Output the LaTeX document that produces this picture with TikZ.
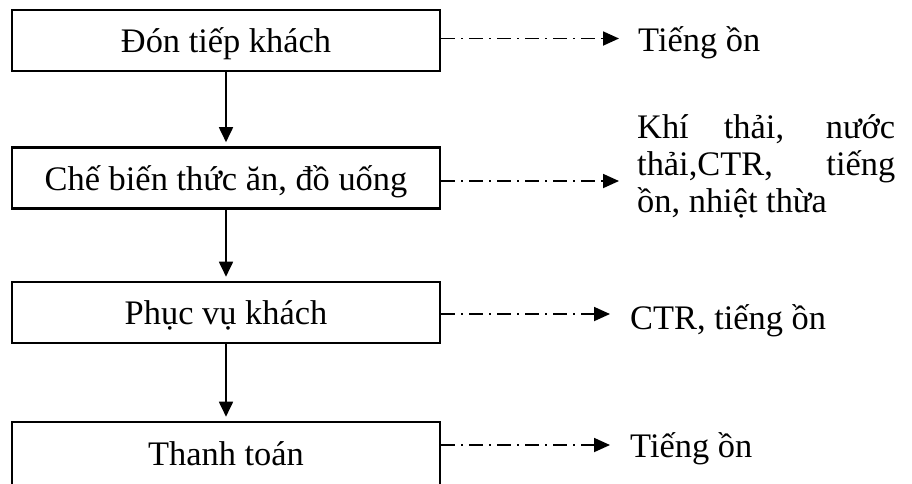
\documentclass[tikz,border=0pt]{standalone}
\usepackage{fontspec}
\setmainfont{Liberation Serif}
\usetikzlibrary{arrows.meta}

\begin{document}
\begin{tikzpicture}[x=1pt,y=-1pt,
  font=\fontsize{34.4}{36}\selectfont,
  stepbox/.style={draw, line width=2.6pt, minimum width=428pt, minimum height=61pt,
    inner sep=0pt, text height=32.7pt, text depth=8.6pt},
  flowdown/.style={line width=1.8pt, -{Triangle[length=15pt,width=14pt]}, shorten >=4pt},
  emission/.style={line width=1.8pt, dash pattern=on 14pt off 6pt on 2pt off 6pt,
    -{Triangle[length=16pt,width=14pt]}},
  outtext/.style={anchor=base west, inner sep=0pt}]
\useasboundingbox (0,0) rectangle (912,483);

% process steps
\node[stepbox] (b1) at (226,40.5) {Đón tiếp khách};
\node[stepbox] (b2) at (226,178) {Chế biến thức ăn, đồ uống};
\node[stepbox] (b3) at (226,312.5) {Phục vụ khách};
\node[stepbox, minimum height=70pt, text depth=16.7pt] (b4) at (226,457) {Thanh toán};

\draw[flowdown] (b1) -- (b2);
\draw[flowdown] (b2) -- (b3);
\draw[flowdown] (b3.south) -- (b3.south |- b4.north);

% emitted outputs
\node[outtext] (o1) at (638,51) {Tiếng ồn};
\node[outtext] (o2a) at (637,138) {\makebox[258pt][s]{Khí thải, nước}};
\node[outtext] (o2b) at (637,175) {\makebox[258pt][s]{thải,CTR, tiếng}};
\node[outtext] (o2c) at (637,212) {ồn, nhiệt thừa};
\node[outtext] (o3) at (630,329) {CTR, tiếng ồn};
\node[outtext] (o4) at (630,457) {Tiếng ồn};

\coordinate (e1) at (619,38.5);
\coordinate (e2) at (619,181);
\coordinate (e3) at (610,314);
\coordinate (e4) at (610,445);

\draw[emission] (b1.east |- e1) -- (e1);
\draw[emission] (b2.east |- e2) -- (e2);
\draw[emission] (b3.east |- e3) -- (e3);
\draw[emission] (b4.east |- e4) -- (e4);
\end{tikzpicture}
\end{document}
